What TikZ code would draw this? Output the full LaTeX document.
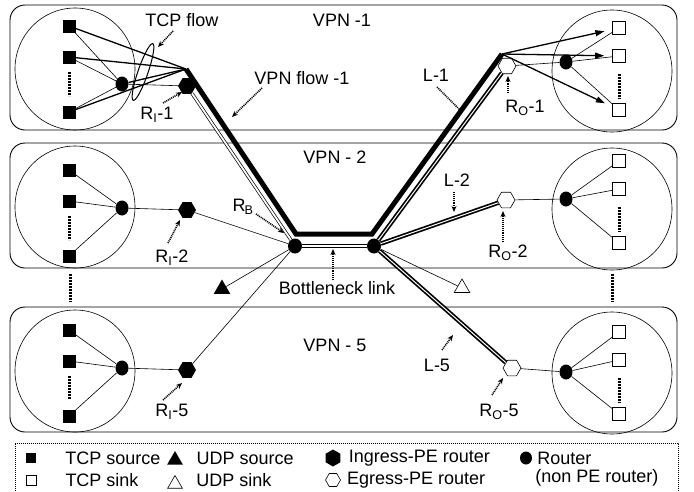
\documentclass[tikz,border=0pt]{standalone}
\usepackage{fontspec}
\setmainfont{Liberation Sans}
\usetikzlibrary{positioning,shapes.geometric,arrows.meta}

\tikzset{
  panel/.style={draw, line width=0.9pt, rounded corners=15pt},
  site/.style={draw, line width=0.6pt, ellipse, minimum width=120pt, minimum height=122pt, inner sep=0pt},
  src/.style={fill, minimum size=13pt, inner sep=0pt},
  snk/.style={draw, fill=white, line width=0.6pt, minimum size=13pt, inner sep=0pt},
  rtr/.style={ellipse, fill, minimum width=13pt, minimum height=15pt, inner sep=0pt},
  ipe/.style={regular polygon, regular polygon sides=6, fill, minimum size=18pt, inner sep=0pt},
  epe/.style={regular polygon, regular polygon sides=6, draw, fill=white, line width=0.6pt, minimum size=18pt, inner sep=0pt},
  udp/.style={regular polygon, regular polygon sides=3, minimum size=19pt, inner sep=0pt},
  link/.style={line width=0.6pt},
  tcp/.style={line width=1.3pt},
  vflow/.style={line width=5pt, line join=miter},
  pipe/.style={double, double distance=1.8pt, line width=0.7pt},
  lpipe/.style={double, double distance=1pt, line width=1.7pt},
  more/.style={line width=3pt, dash pattern=on 2pt off 1pt},
  note/.style={line width=1.6pt, dash pattern=on 1pt off 0.9pt, -{Stealth[length=6pt,width=5pt]}},
  lbl/.style={inner sep=0pt, font=\fontsize{18}{20}\selectfont},
}

\begin{document}
\begin{tikzpicture}[x=1pt,y=-1pt]
  \useasboundingbox (0,0) rectangle (694,491);

  % the three VPN panels
  \foreach \p/\t/\sy/\ry/\ex/\ey/\oy/\ky in
      {1/5/26/84/507/66/62/28, 2/143/170/208/506/200/199/161, 5/307/330/368/512/368/372/332}{
    \draw[panel] (10,\t) rectangle (677,\t+125);
    \node[site] (cl\p) at (75,\t+64) {};
    \node[site] (cr\p) at (612,\t+66) {};
    \node[src] (s\p-a) at (69,\sy) {};
    \node[src] (s\p-b) at (69,\sy+31) {};
    \node[src] (s\p-c) at (69,\sy+86) {};
    \draw[more] (69,\sy+46) -- (69,\sy+70);
    \node[rtr] (rl\p) at (122,\ry) {};
    \node[ipe] (in\p) at (187,\ry+2) {};
    \node[epe] (eg\p) at (\ex,\ey) {};
    \node[rtr] (rr\p) at (566,\oy) {};
    \node[snk] (k\p-a) at (619,\ky) {};
    \node[snk] (k\p-b) at (619,\ky+28) {};
    \node[snk] (k\p-c) at (619,\ky+82) {};
    \draw[more] (619,\ky+46) -- (619,\ky+71);
    \foreach \s in {a,b,c} {
      \draw[link] (s\p-\s) -- (rl\p);
      \draw[link] (rr\p) -- (k\p-\s);
    }
    \draw[link] (rl\p) -- (in\p);
    \draw[link] (eg\p) -- (rr\p);
  }
  \draw[more] (70,274) -- (70,302);
  \draw[more] (612,274) -- (612,302);

  % core
  \node[rtr, minimum width=14pt] (rB) at (295,246) {};
  \node[rtr, minimum width=14pt] (rC) at (374,246) {};
  \node[udp, fill] (uS) at (222,289) {};
  \node[udp, draw, fill=white, line width=0.6pt, minimum size=18pt] (uK) at (462,288) {};
  \coordinate (f1) at (186,69);
  \coordinate (fB) at (296,234);
  \coordinate (fC) at (372,234);
  \coordinate (e1) at (502,54);

  \draw[link] (in2) -- (rB);
  \draw[link] (in5) -- (rB);
  \draw[link] (rB) -- (uS);
  \draw[link] (rC) -- (uK);
  \draw[pipe] (in1) -- (rB);
  \draw[pipe] (rB) -- (rC);
  \draw[lpipe] (rC) -- (eg1);
  \draw[lpipe] (rC) -- (eg2);
  \draw[lpipe] (rC) -- (eg5);
  \draw[vflow] (f1) -- (fB) -- (fC) -- (e1);

  % flows of VPN-1
  \foreach \s in {a,b,c} {
    \draw[tcp] (s1-\s) -- (f1);
    \draw[tcp, -{Triangle[length=9pt,width=6pt]}, shorten >=8pt] (e1) -- (k1-\s);
  }
  \draw[tcp] (rl1) -- (f1);
  \node[draw, ellipse, line width=1pt, minimum width=60pt, minimum height=10pt, inner sep=0pt, rotate=71] (ring) at (143,72) {};

  % labels
  \node[lbl] (tVPN1) at (342,20) {VPN -1};
  \node[lbl] (tVPN2) at (335,157) {VPN - 2};
  \node[lbl] (tVPN5) at (335,345) {VPN - 5};
  \node[lbl] (tTCP) at (182,20) {TCP flow};
  \node[lbl] (tFlow) at (302,78) {VPN flow -1};
  \node[lbl] (tRI1) at (157,115) {R\textsubscript{I}-1};
  \node[lbl] (tRI2) at (172,258) {R\textsubscript{I}-2};
  \node[lbl] (tRI5) at (172,412) {R\textsubscript{I}-5};
  \node[lbl] (tRB) at (243,207) {R\kern-1pt\textsubscript{B}};
  \node[lbl] (tBot) at (337,288) {Bottleneck link};
  \node[lbl] (tL1) at (436,75) {L-1};
  \node[lbl] (tL2) at (457,180) {L-2};
  \node[lbl] (tL5) at (437,365) {L-5};
  \node[lbl] (tRO1) at (525,108) {R\textsubscript{O}-1};
  \node[lbl] (tRO2) at (508,253) {R\textsubscript{O}-2};
  \node[lbl] (tRO5) at (499,412) {R\textsubscript{O}-5};

  % pointers
  \coordinate (aTCP) at (173,31);   \coordinate (bTCP) at (158,47);
  \coordinate (aFlow) at (262,88);  \coordinate (bFlow) at (232,117);
  \coordinate (aRI1) at (163,103);  \coordinate (bRI1) at (182,92);
  \coordinate (aRI2) at (168,243);  \coordinate (bRI2) at (180,220);
  \coordinate (aRI5) at (163,400);  \coordinate (bRI5) at (182,383);
  \coordinate (aRB) at (256,214);   \coordinate (bRB) at (284,233);
  \coordinate (aBot) at (333,280);  \coordinate (bBot) at (333,249);
  \coordinate (aL1) at (437,87);    \coordinate (bL1) at (460,110);
  \coordinate (aL2) at (454,192);   \coordinate (bL2) at (454,212);
  \coordinate (aL5) at (442,350);   \coordinate (bL5) at (453,335);
  \coordinate (aRO1) at (508,93);   \coordinate (bRO1) at (508,76);
  \coordinate (aRO2) at (503,242);  \coordinate (bRO2) at (503,211);
  \coordinate (aRO5) at (492,395);  \coordinate (bRO5) at (503,378);
  \foreach \n in {TCP,Flow,RI1,RI2,RI5,RB,Bot,L2,L5,RO1,RO2,RO5}
    \draw[note] (a\n) -- (b\n);
  \draw[note, -] (aL1) -- (bL1);

  % legend
  \draw[line width=1pt, dash pattern=on 1pt off 1pt] (15,495) -- (15,443) -- (678,443) -- (678,495);
  \node[src, minimum size=10pt] (lgSrc) at (31,458) {};
  \node[snk, minimum size=10pt] (lgSnk) at (31,480) {};
  \node[udp, fill, minimum size=18pt] (lgUS) at (175,460) {};
  \node[udp, draw, fill=white, line width=0.6pt, minimum size=17pt] (lgUK) at (175,484) {};
  \node[ipe, shape border rotate=90, minimum size=17pt] (lgIn) at (333,458) {};
  \node[epe, minimum size=15pt] (lgEg) at (333,480) {};
  \node[rtr, minimum width=12pt, minimum height=13pt] (lgRt) at (526,458) {};
  \node[lbl, right=29pt of lgSrc] (lSrc) {TCP source};
  \node[lbl, right=29pt of lgSnk] (lSnk) {TCP sink};
  \node[lbl, right=16pt of lgUS, yshift=2pt] (lUS) {UDP source};
  \node[lbl, right=16pt of lgUK, yshift=4pt] (lUK) {UDP sink};
  \node[lbl, right=8pt of lgIn] (lIn) {Ingress-PE router};
  \node[lbl, right=6pt of lgEg] (lEg) {Egress-PE router};
  \node[lbl, right=5pt of lgRt] (lRt) {Router};
  \node[lbl, below=5pt of lRt.south west, anchor=north west, xshift=-2pt] (lRt2) {(non PE router)};
\end{tikzpicture}
\end{document}
